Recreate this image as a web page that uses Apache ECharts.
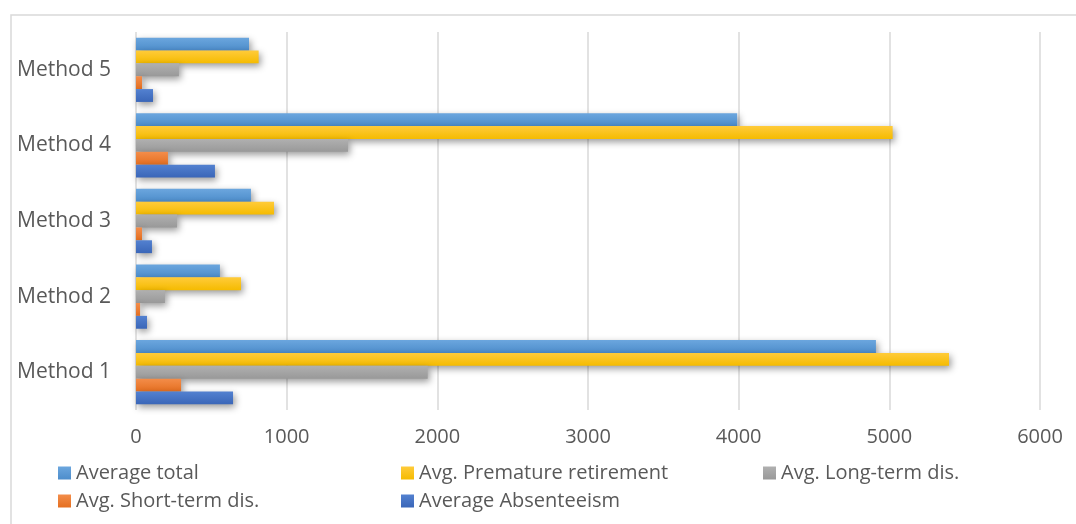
<!DOCTYPE html>
<html>
<head>
<meta charset="utf-8">
<script src="https://cdn.jsdelivr.net/npm/echarts@6/dist/echarts.min.js"></script>
<style>
  html, body { margin: 0; padding: 0; background: #ffffff; }
  #chart { width: 1076px; height: 524px; }
</style>
</head>
<body>
<div id="chart"></div>
<script>
// Categories (bottom to top on the y axis)
const methods = ['Method 1', 'Method 2', 'Method 3', 'Method 4', 'Method 5'];

// Series values per method
const averageTotal        = [4911, 557, 763, 3990, 750];
const avgPrematureRetire  = [5396, 697, 916, 5022, 814];
const avgLongTermDis      = [1936, 192, 272, 1407, 285];
const avgShortTermDis     = [299, 27, 40, 212, 40];
const averageAbsenteeism  = [644, 73, 106, 524, 113];

// Value axis ticks
const xTicks = [0, 1000, 2000, 3000, 4000, 5000, 6000];

const seriesNames = [
  'Average total',
  'Avg. Premature retirement',
  'Avg. Long-term dis.',
  'Avg. Short-term dis.',
  'Average Absenteeism'
];
const seriesData = [averageTotal, avgPrematureRetire, avgLongTermDis, avgShortTermDis, averageAbsenteeism];
const colorStops = [
  ['#6ba6de', '#4d8dcb'],
  ['#ffcb3a', '#f5bb00'],
  ['#b0b0b0', '#999999'],
  ['#f38d4a', '#e56f20'],
  ['#5381d0', '#3a66b8']
];

const FONT = '"Open Sans", "Liberation Sans", sans-serif';
const TEXT = '#595959';

function grad(c) {
  return new echarts.graphic.LinearGradient(0, 0, 0, 1, [
    { offset: 0, color: c[0] },
    { offset: 1, color: c[1] }
  ]);
}

// First series is drawn at the top of each category band
const series = seriesNames.map((name, i) => ({
  name: name,
  type: 'bar',
  data: seriesData[i],
  barGap: '0%',
  barCategoryGap: '15%',
  itemStyle: {
    color: grad(colorStops[i]),
    shadowColor: 'rgba(0,0,0,0.4)',
    shadowBlur: 7,
    shadowOffsetX: 2,
    shadowOffsetY: 3
  }
}));

const legendText = { color: TEXT, fontFamily: FONT, fontSize: 20 };
const legendBase = {
  orient: 'vertical', top: 458,
  itemWidth: 13, itemHeight: 13, itemGap: 8, itemTextGap: 5,
  icon: 'rect', textStyle: legendText
};

const option = {
  animation: false,
  backgroundColor: '#ffffff',
  graphic: [{
    type: 'rect',
    shape: { x: 11, y: 15, width: 1100, height: 560 },
    style: { fill: 'none', stroke: '#d9d9d9', lineWidth: 1.5 },
    silent: true
  }],
  grid: { left: 136, right: 36, top: 32, bottom: 114, containLabel: false },
  legend: [
    Object.assign({}, legendBase, { left: 53, data: ['Average total', 'Avg. Short-term dis.'] }),
    Object.assign({}, legendBase, { left: 396, data: ['Avg. Premature retirement', 'Average Absenteeism'] }),
    Object.assign({}, legendBase, { left: 758, data: ['Avg. Long-term dis.'] })
  ],
  xAxis: {
    type: 'value',
    min: xTicks[0],
    max: xTicks[xTicks.length - 1],
    interval: xTicks[1] - xTicks[0],
    axisLine: { show: false },
    axisTick: { show: false },
    axisLabel: {
      color: TEXT, fontFamily: FONT, fontSize: 20, margin: 17,
      formatter: v => String(v)
    },
    splitLine: { show: true, lineStyle: { color: '#d9d9d9', width: 1.5 } }
  },
  yAxis: {
    type: 'category',
    data: methods,
    axisLine: { show: false },
    axisTick: { show: false },
    axisLabel: { color: TEXT, fontFamily: FONT, fontSize: 21, margin: 25 },
    splitLine: { show: false }
  },
  series: series
};

const chart = echarts.init(document.getElementById('chart'), null, { renderer: 'canvas' });
chart.setOption(option);
</script>
</body>
</html>
